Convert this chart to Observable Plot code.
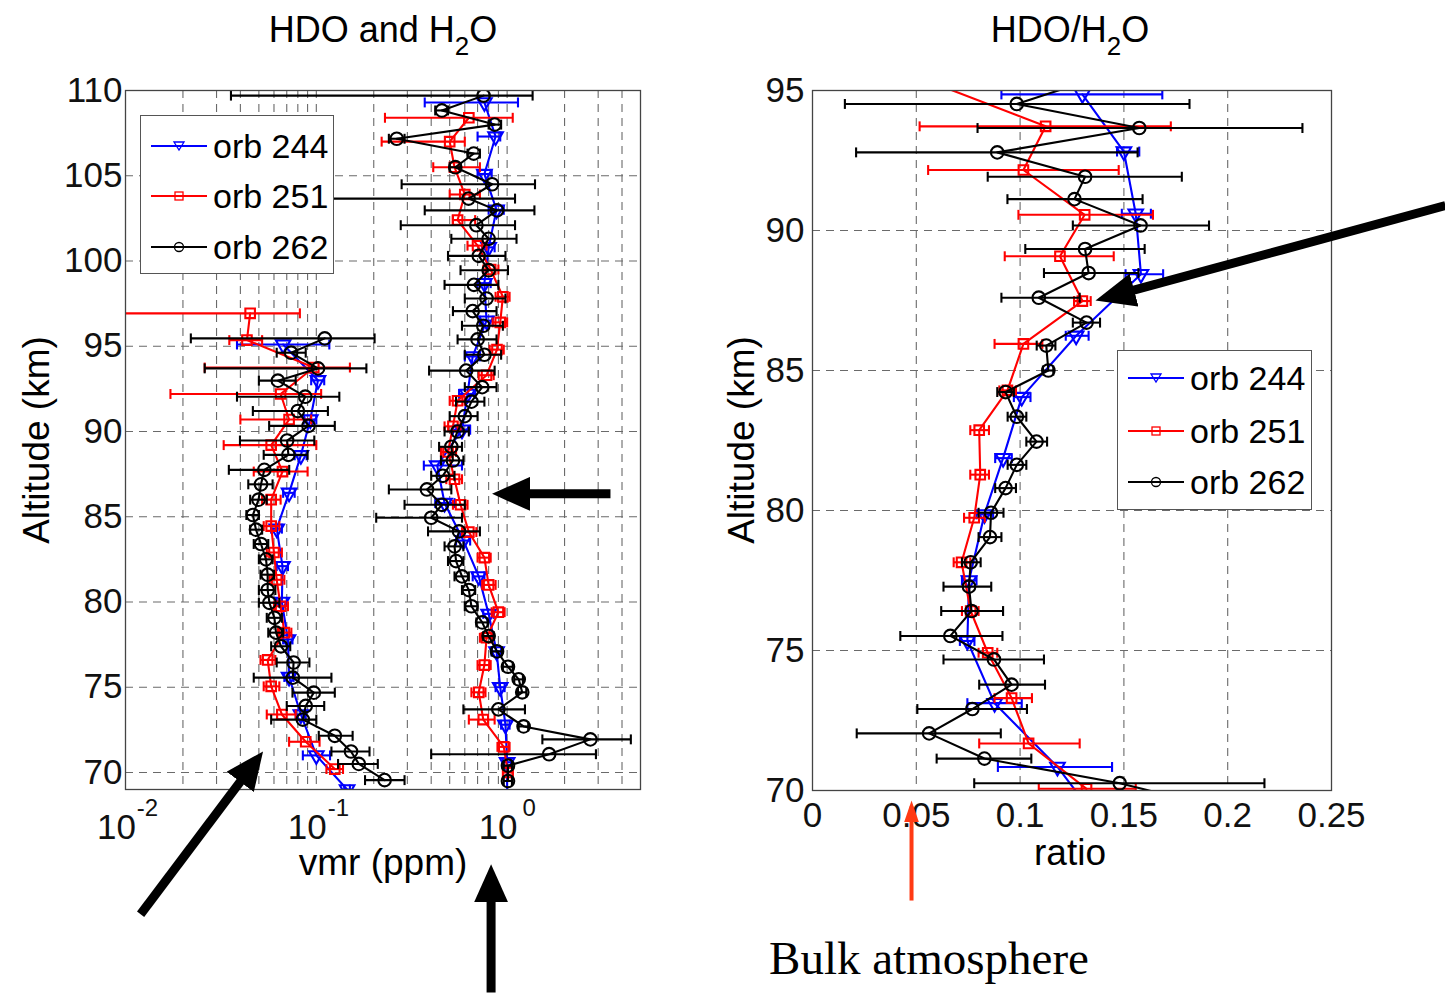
<!DOCTYPE html>
<html><head><meta charset="utf-8">
<script src="https://cdn.jsdelivr.net/npm/d3@7"></script>
<script src="https://cdn.jsdelivr.net/npm/@observablehq/plot@0.6"></script>
<style>
body{margin:0;background:#fff;}
#wrap{position:relative;width:1445px;height:993px;overflow:hidden;background:#fff;font-family:"Liberation Sans",Arial,Helvetica,sans-serif;color:#000;}
#wrap svg{position:absolute;top:0;}
.lab{position:absolute;white-space:nowrap;transform:translate(-50%,-50%);line-height:1;}
.rot{transform:translate(-50%,-50%) rotate(-90deg);}
sub{font-size:0.72em;vertical-align:-0.5em;line-height:0;}
.legend{position:absolute;background:#fff;border:1.5px solid #555;box-sizing:border-box;}
.legend .row{position:absolute;left:0;height:40px;display:flex;align-items:center;font-size:34px;}
</style></head>
<body><div id="wrap"></div>
<script>
// ---------- data (altitude km, value, lower, upper) ----------
const orbs = ["orb 244", "orb 251", "orb 262"];
const orbColors = ["#0000ff", "#ff0000", "#000000"];

// HDO vmr (ppm)
const hdo244 = [
  [95.1,0.067,0.0384,0.117],[93.0,0.102,0.094,0.110],[90.7,0.093,0.086,0.100],[88.6,0.083,0.077,0.089],
  [86.4,0.072,0.067,0.077],[84.3,0.062,0.058,0.066],[82.1,0.0665,0.062,0.071],[80.0,0.066,0.062,0.070],
  [77.8,0.071,0.067,0.075],[75.6,0.072,0.068,0.076],[73.4,0.083,0.078,0.088],[71.0,0.10,0.085,0.118],
  [69.0,0.145,0.14,0.15]];
const hdo251 = [
  [96.93,0.045,0.008,0.082],[95.36,0.0433,0.035,0.052],[93.75,0.097,0.026,0.15],[92.2,0.065,0.0172,0.106],
  [90.7,0.072,0.040,0.094],[89.2,0.058,0.0327,0.10],[87.65,0.0665,0.047,0.09],[86.0,0.058,0.052,0.065],
  [84.45,0.058,0.053,0.064],[82.9,0.060,0.055,0.066],[81.3,0.062,0.057,0.068],[79.75,0.065,0.060,0.071],
  [78.2,0.068,0.063,0.074],[76.6,0.0556,0.051,0.061],[75.05,0.058,0.053,0.064],[73.4,0.066,0.055,0.078],
  [71.8,0.088,0.072,0.104],[70.2,0.125,0.113,0.138]];
const hdo262 = [
  [95.46,0.1107,0.022,0.202],[94.62,0.0738,0.062,0.088],[93.7,0.102,0.026,0.183],[92.98,0.0629,0.05,0.078],
  [92.04,0.0875,0.0384,0.132],[91.2,0.080,0.0465,0.115],[90.33,0.091,0.0566,0.125],[89.47,0.0703,0.0398,0.0976],
  [88.63,0.0714,0.053,0.09],[87.75,0.0534,0.0348,0.0721],[86.9,0.0513,0.044,0.059],[86.0,0.0498,0.045,0.055],
  [85.1,0.0465,0.043,0.050],[84.24,0.0483,0.045,0.052],[83.4,0.0513,0.047,0.056],[82.5,0.0545,0.050,0.059],
  [81.6,0.0556,0.051,0.060],[80.7,0.0556,0.050,0.061],[79.95,0.0568,0.050,0.064],[79.07,0.0603,0.055,0.066],
  [78.2,0.0615,0.056,0.067],[77.4,0.0653,0.058,0.073],[76.45,0.076,0.062,0.092],[75.56,0.0753,0.047,0.12],
  [74.68,0.097,0.075,0.125],[73.9,0.088,0.07,0.11],[73.1,0.085,0.058,0.10],[72.15,0.125,0.103,0.155],
  [71.23,0.152,0.12,0.19],[70.5,0.167,0.13,0.21],[69.55,0.228,0.18,0.29]];

// H2O vmr (ppm)
const h2o244 = [
  [109.3,0.76,0.37,1.14],[107.3,0.87,0.70,0.92],[105.1,0.76,0.70,0.83],[103.0,0.88,0.80,0.96],
  [100.8,0.80,0.74,0.86],[98.7,0.76,0.70,0.82],[96.5,0.78,0.72,0.84],[94.4,0.66,0.60,0.72],
  [92.2,0.62,0.56,0.68],[90.1,0.58,0.52,0.64],[88.0,0.43,0.366,0.58],[85.8,0.47,0.42,0.53],
  [83.6,0.59,0.54,0.64],[81.5,0.71,0.66,0.76],[79.3,0.80,0.75,0.85],[77.1,0.88,0.83,0.93],
  [75.0,0.92,0.87,0.97],[72.8,0.98,0.93,1.03],[70.6,1.0,0.95,1.05],[68.5,1.0,0.95,1.05]];
const h2o251 = [
  [108.4,0.63,0.229,1.07],[107.0,0.50,0.22,0.60],[105.5,0.53,0.41,0.72],[103.9,0.60,0.50,0.72],
  [102.4,0.55,0.52,0.68],[100.9,0.70,0.62,0.78],[99.5,0.82,0.75,0.90],[97.9,0.95,0.87,1.03],
  [96.4,0.92,0.84,1.0],[94.8,0.885,0.81,0.96],[93.3,0.78,0.71,0.85],[91.8,0.55,0.50,0.60],
  [90.3,0.52,0.47,0.57],[88.8,0.49,0.45,0.54],[87.2,0.53,0.48,0.58],[85.7,0.57,0.52,0.62],
  [84.1,0.63,0.58,0.69],[82.6,0.76,0.70,0.82],[81.0,0.80,0.74,0.87],[79.4,0.90,0.83,0.97],
  [77.9,0.78,0.72,0.84],[76.3,0.76,0.70,0.82],[74.7,0.71,0.65,0.77],[73.1,0.75,0.63,0.86],
  [71.5,0.96,0.89,1.03],[70.0,1.01,0.95,1.07]];
const h2o262 = [
  [109.7,0.753,0.0357,1.36],[108.83,0.455,0.42,0.49],[108.0,0.861,0.80,0.93],[107.17,0.264,0.24,0.29],
  [106.3,0.668,0.62,0.72],[105.5,0.535,0.50,0.57],[104.5,0.834,0.28,1.40],[103.66,0.628,0.08,1.10],
  [102.97,0.885,0.37,1.39],[102.1,0.69,0.277,1.10],[101.3,0.80,0.51,1.12],[100.3,0.71,0.49,0.98],
  [99.46,0.80,0.57,1.01],[98.6,0.67,0.47,0.90],[97.8,0.78,0.60,0.98],[97.06,0.66,0.52,0.88],
  [96.2,0.75,0.58,0.95],[95.4,0.70,0.55,0.88],[94.5,0.76,0.60,0.93],[93.57,0.61,0.39,0.86],
  [92.6,0.74,0.60,0.88],[91.75,0.65,0.54,0.76],[90.9,0.60,0.50,0.70],[90.0,0.55,0.47,0.63],
  [89.1,0.51,0.44,0.58],[88.3,0.52,0.45,0.59],[87.4,0.46,0.40,0.53],[86.6,0.38,0.24,0.51],
  [85.7,0.455,0.29,0.60],[84.94,0.40,0.206,0.58],[84.14,0.56,0.385,0.72],[83.26,0.53,0.47,0.59],
  [82.4,0.54,0.49,0.59],[81.5,0.58,0.53,0.63],[80.7,0.63,0.58,0.68],[79.75,0.65,0.60,0.70],
  [78.8,0.74,0.69,0.79],[78.0,0.80,0.75,0.85],[77.1,0.885,0.83,0.94],[76.2,1.01,0.95,1.07],
  [75.46,1.15,1.09,1.21],[74.7,1.20,1.14,1.26],[73.7,0.90,0.59,1.24],[72.7,1.22,1.15,1.29],
  [71.94,2.73,1.53,4.45],[71.07,1.66,0.40,2.92],[70.4,1.01,0.96,1.06],[69.5,1.01,0.96,1.06]];

// HDO/H2O ratio
const ratio244 = [
  [94.86,0.13,0.091,0.1685],[92.82,0.15,0.1467,0.1574],[90.6,0.1557,0.149,0.163],[88.44,0.1582,0.1508,0.1689],
  [86.24,0.127,0.122,0.133],[84.05,0.1008,0.097,0.105],[81.87,0.0918,0.088,0.096],[79.86,0.0828,0.079,0.087],
  [77.5,0.0754,0.072,0.079],[75.34,0.0746,0.071,0.078],[73.12,0.0877,0.0746,0.1008],[70.84,0.118,0.0893,0.1443],
  [68.7,0.14,0.14,0.14]];
const ratio251 = [
  [95.3,0.057,0.057,0.057],[93.72,0.1123,0.0516,0.1726],[92.16,0.1016,0.0557,0.1475],[90.56,0.1311,0.0992,0.164],
  [89.08,0.1192,0.0926,0.1451],[87.48,0.13,0.126,0.134],[85.95,0.1016,0.0877,0.1107],[84.29,0.0939,0.090,0.098],
  [82.87,0.0803,0.076,0.085],[81.28,0.0808,0.076,0.085],[79.74,0.0779,0.073,0.083],[78.15,0.0718,0.068,0.076],
  [76.41,0.0762,0.072,0.080],[74.92,0.0844,0.080,0.089],[73.3,0.0959,0.0877,0.1057],[71.68,0.1041,0.0803,0.1287],
  [70.06,0.132,0.109,0.1557]];
const ratio262 = [
  [95.4,0.135,0.135,0.135],[94.52,0.0984,0.0156,0.1816],[93.66,0.1574,0.0795,0.236],[92.79,0.089,0.021,0.1566],
  [91.92,0.1313,0.0844,0.1779],[91.12,0.1262,0.0939,0.159],[90.18,0.158,0.1254,0.191],[89.34,0.1313,0.1025,0.160],
  [88.48,0.133,0.1115,0.157],[87.6,0.109,0.091,0.1287],[86.71,0.132,0.1254,0.1385],[85.89,0.1126,0.108,0.117],
  [85.0,0.1136,0.111,0.116],[84.23,0.093,0.089,0.097],[83.35,0.0984,0.094,0.103],[82.46,0.1079,0.103,0.113],
  [81.63,0.0984,0.094,0.103],[80.8,0.093,0.088,0.098],[79.92,0.086,0.080,0.092],[79.05,0.0855,0.080,0.091],
  [78.15,0.0762,0.072,0.081],[77.28,0.0754,0.0631,0.0861],[76.41,0.0766,0.062,0.0918],[75.52,0.0664,0.0423,0.0915],
  [74.68,0.0874,0.0631,0.1115],[73.78,0.0959,0.0803,0.112],[72.91,0.077,0.0505,0.1033],[72.04,0.0562,0.0213,0.0907],
  [71.14,0.0828,0.0598,0.1054],[70.26,0.148,0.0779,0.2177],[69.3,0.2,0.2,0.2]];

// tick values
const vmrDecades = [0.01, 0.1, 1];
const vmrGrid = [0.02,0.03,0.04,0.05,0.06,0.07,0.08,0.09,0.1,0.2,0.3,0.4,0.5,0.6,0.7,0.8,0.9,1,2,3,4];
const altTicksLeft = [70,75,80,85,90,95,100,105,110];
const altTicksRight = [70,75,80,85,90,95];
const ratioTicks = [0,0.05,0.1,0.15,0.2,0.25];

// annotation arrows (data coordinates of each panel)
const leftArrows = [
  {x1:0.012, y1:61.68, x2:0.0482, y2:70.67},
  {x1:0.824, y1:57.1, x2:0.824, y2:63.91},
  {x1:3.48, y1:86.34, x2:0.964, y2:86.34}];
const rightArrowsBlack = [{x1:0.3049, y1:90.89, x2:0.1419, y2:87.61}];
const rightArrowsRed = [{x1:0.0477, y1:66.07, x2:0.0477, y2:69.43}];

// ---------- helpers ----------
function rows(table, orb, profile) {
  return table.map(([alt, val, lo, hi]) => ({orb, profile, alt, val, lo, hi}));
}
const capSym = {draw(ctx, size) { const h = Math.sqrt(size); ctx.moveTo(0, -h); ctx.lineTo(0, h); }};
function symbolFor(i) { return i === 0 ? "triangle" : i === 1 ? "square" : "circle"; }

function seriesMarks(profiles, i) {
  const color = orbColors[i];
  const sw = 2.1;
  const marks = [];
  for (const data of profiles) {
    marks.push(
      Plot.link(data, {x1: "lo", x2: "hi", y1: "alt", y2: "alt", stroke: color, strokeWidth: sw, clip: true}),
      Plot.dot(data, {x: "lo", y: "alt", symbol: capSym, r: 2.8, stroke: color, fill: "none", strokeWidth: sw, clip: true}),
      Plot.dot(data, {x: "hi", y: "alt", symbol: capSym, r: 2.8, stroke: color, fill: "none", strokeWidth: sw, clip: true}),
      Plot.line(data, {x: "val", y: "alt", stroke: color, strokeWidth: sw, clip: true}),
      Plot.dot(data, {x: "val", y: "alt", symbol: symbolFor(i), r: i === 2 ? 6.3 : 5.4, rotate: i === 0 ? 180 : 0,
        stroke: color, fill: "none", strokeWidth: 2.1, clip: true})
    );
  }
  return marks;
}

function filledHead(L, W, back) {
  return (color, context) => {
    const ns = "http://www.w3.org/2000/svg";
    const doc = (context && context.document) || document;
    const m = doc.createElementNS(ns, "marker");
    m.setAttribute("viewBox", `0 ${-W/2} ${L} ${W}`);
    m.setAttribute("markerWidth", L);
    m.setAttribute("markerHeight", W);
    m.setAttribute("markerUnits", "userSpaceOnUse");
    m.setAttribute("refX", L - back);
    m.setAttribute("refY", 0);
    m.setAttribute("orient", "auto");
    const p = doc.createElementNS(ns, "path");
    p.setAttribute("d", `M0,${-W/2}L${L},0L0,${W/2}Z`);
    p.setAttribute("fill", color);
    p.setAttribute("stroke", "none");
    m.appendChild(p);
    return m;
  };
}

const gridStyle = {stroke: "#6a6a6a", strokeOpacity: 1, strokeWidth: 1.1, strokeDasharray: "8,6"};
const font = "Liberation Sans, Arial, sans-serif";

// ---------- left panel ----------
const leftPlot = Plot.plot({
  width: 720, height: 993,
  marginLeft: 125, marginRight: 80, marginTop: 90, marginBottom: 204,
  style: {fontFamily: font, background: "transparent", overflow: "visible"},
  x: {type: "log", domain: [0.01, 5], axis: null},
  y: {domain: [69, 110], axis: null},
  marks: [
    Plot.gridX(vmrGrid, gridStyle),
    Plot.gridY(altTicksLeft.filter(d => d < 110), gridStyle),
    ...seriesMarks([rows(hdo244, orbs[0], "hdo"), rows(h2o244, orbs[0], "h2o")], 0),
    ...seriesMarks([rows(hdo251, orbs[1], "hdo"), rows(h2o251, orbs[1], "h2o")], 1),
    ...seriesMarks([rows(hdo262, orbs[2], "hdo"), rows(h2o262, orbs[2], "h2o")], 2),
    Plot.frame({stroke: "#444", strokeWidth: 1.3}),
    Plot.axisY(altTicksLeft, {tickSize: 0, tickPadding: 3, fontSize: 35, fill: "#111"}),
    Plot.axisX(vmrDecades, {tickSize: 0, tickPadding: 25, fontSize: 35, dx: -9, tickFormat: () => "10", fill: "#111"}),
    Plot.axisX(vmrDecades, {tickSize: 0, tickPadding: 9, fontSize: 24, dx: 22, tickFormat: d => String(Math.round(Math.log10(d))), fill: "#111"}),
    Plot.link(leftArrows, {x1: "x1", y1: "y1", x2: "x2", y2: "y2", stroke: "#000", strokeWidth: 9,
      strokeLinecap: "butt", markerEnd: filledHead(38, 34, 12)})
  ]
});
leftPlot.style.left = "0px";

// ---------- right panel ----------
const rightPlot = Plot.plot({
  width: 725, height: 993,
  marginLeft: 92, marginRight: 114, marginTop: 90, marginBottom: 203,
  style: {fontFamily: font, background: "transparent", overflow: "visible"},
  x: {domain: [0, 0.25], axis: null},
  y: {domain: [70, 95], axis: null},
  marks: [
    Plot.gridX(ratioTicks.filter(d => d > 0 && d < 0.25), gridStyle),
    Plot.gridY(altTicksRight.filter(d => d > 70 && d < 95), gridStyle),
    ...seriesMarks([rows(ratio244, orbs[0], "ratio")], 0),
    ...seriesMarks([rows(ratio251, orbs[1], "ratio")], 1),
    ...seriesMarks([rows(ratio262, orbs[2], "ratio")], 2),
    Plot.frame({stroke: "#444", strokeWidth: 1.3}),
    Plot.axisY(altTicksRight, {tickSize: 0, tickPadding: 8, fontSize: 35, fill: "#111"}),
    Plot.axisX(ratioTicks, {tickSize: 0, tickPadding: 12, fontSize: 35, fill: "#111", tickFormat: d => d === 0 ? "0" : String(d)}),
    Plot.link(rightArrowsBlack, {x1: "x1", y1: "y1", x2: "x2", y2: "y2", stroke: "#000", strokeWidth: 9,
      strokeLinecap: "butt", markerEnd: filledHead(40, 34, 12)}),
    Plot.link(rightArrowsRed, {x1: "x1", y1: "y1", x2: "x2", y2: "y2", stroke: "#ff3a14", strokeWidth: 4,
      strokeLinecap: "butt", markerEnd: filledHead(22, 15, 6)})
  ]
});
rightPlot.style.left = "720px";

const wrap = document.getElementById("wrap");
wrap.appendChild(leftPlot);
wrap.appendChild(rightPlot);

// ---------- texts ----------
function label(html, x, y, size, cls = "", extra = "") {
  const d = document.createElement("div");
  d.className = "lab " + cls;
  d.style.left = x + "px"; d.style.top = y + "px"; d.style.fontSize = size + "px";
  if (extra) d.style.cssText += extra;
  d.innerHTML = html;
  wrap.appendChild(d);
}
label("HDO and H<sub>2</sub>O", 383, 30, 36);
label("HDO/H<sub>2</sub>O", 1070, 30, 36);
label("Altitude (km)", 36, 440, 37, "rot");
label("Altitude (km)", 741, 440, 37, "rot");
label("vmr (ppm)", 383, 862, 37);
label("ratio", 1070, 852, 37);
label("Bulk atmosphere", 929, 958, 47, "", "font-family:'Liberation Serif','Times New Roman',serif;");

// ---------- legends ----------
function legend(left, top, w, h, rowYs) {
  const box = document.createElement("div");
  box.className = "legend";
  box.style.left = left + "px"; box.style.top = top + "px";
  box.style.width = w + "px"; box.style.height = h + "px";
  orbs.forEach((name, i) => {
    const row = document.createElement("div");
    row.className = "row";
    row.style.top = (rowYs[i] - 20) + "px";
    let marker;
    if (i === 0) marker = `<path d="M23,5 L33,5 L28,13 Z" fill="none" stroke="${orbColors[i]}" stroke-width="1.3"/>`;
    else if (i === 1) marker = `<rect x="24" y="5" width="8" height="8" fill="none" stroke="${orbColors[i]}" stroke-width="1.3"/>`;
    else marker = `<circle cx="28" cy="9" r="4.5" fill="none" stroke="${orbColors[i]}" stroke-width="1.3"/>`;
    row.innerHTML = `<svg width="56" height="18" style="position:static;margin-left:10px;margin-right:6px;overflow:visible">
      <line x1="0" y1="9" x2="56" y2="9" stroke="${orbColors[i]}" stroke-width="2"/>${marker}</svg><span>${name}</span>`;
    box.appendChild(row);
  });
  wrap.appendChild(box);
}
legend(140, 115, 194, 159, [30, 80, 131]);
legend(1117, 350, 195, 160, [27, 80, 131]);
</script>
</body></html>
